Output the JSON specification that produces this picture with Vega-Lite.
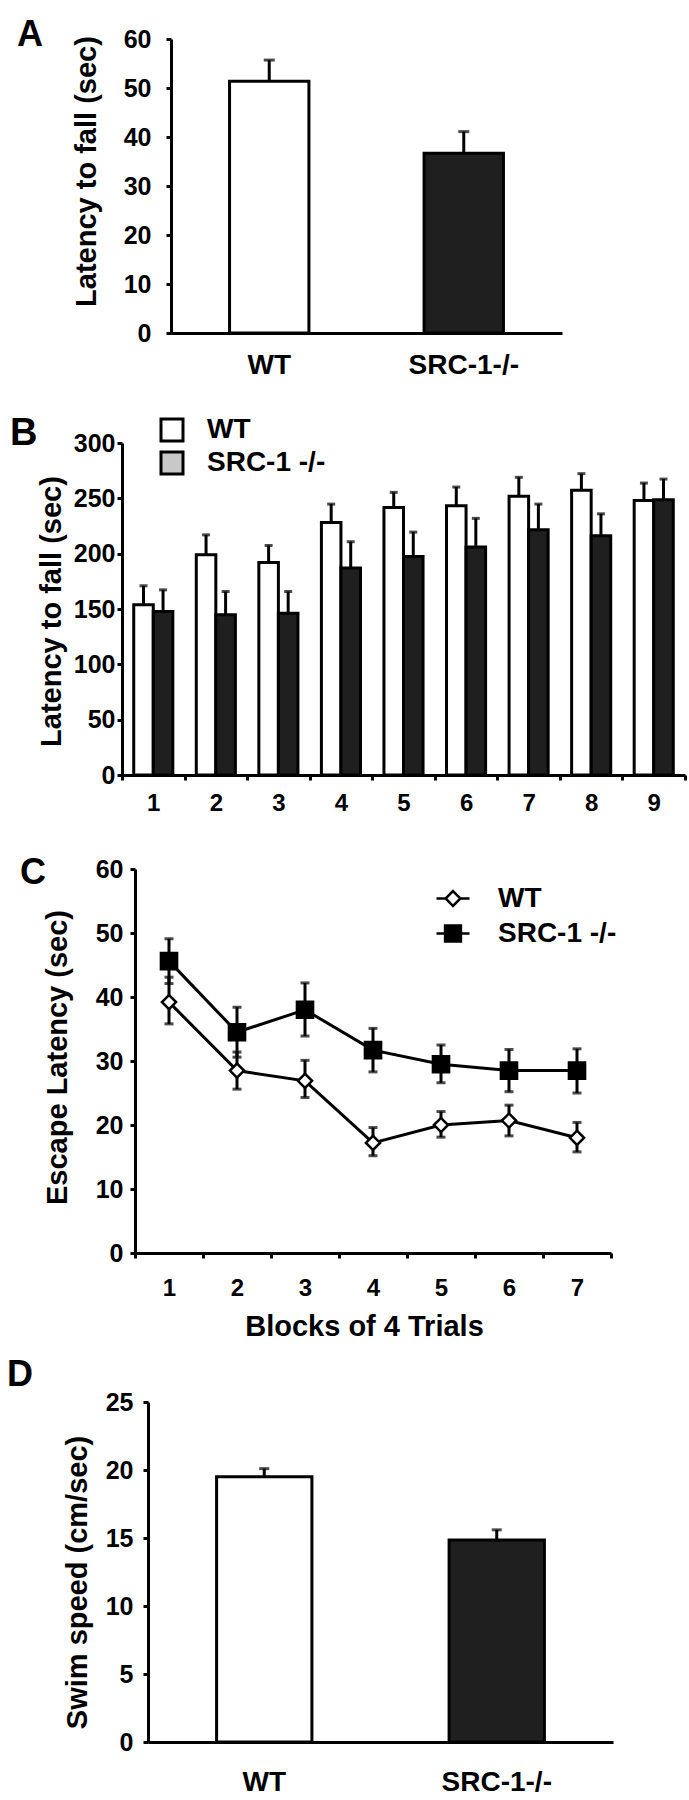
{
  "$schema": "https://vega.github.io/schema/vega-lite/v6.json",
  "autosize": {"type": "pad"},
  "padding": {"left": 7, "top": 0, "right": 0, "bottom": 0},
  "background": "white",
  "config": {
    "font": "Liberation Sans",
    "view": {"stroke": null},
    "axis": {
      "domainColor": "black", "domainWidth": 3,
      "tickColor": "black", "tickWidth": 3, "tickSize": 5,
      "labelColor": "black", "labelFont": "Liberation Sans", "labelFontWeight": "bold", "labelFontSize": 25,
      "titleFont": "Liberation Sans", "titleFontWeight": "bold", "titleFontSize": 29, "titleColor": "black",
      "grid": false, "labelAngle": 0
    },
    "legend": {"padding": 0, "labelFont": "Liberation Sans", "labelFontWeight": "bold", "labelFontSize": 28, "labelColor": "black", "labelLimit": 400},
    "title": {"font": "Liberation Sans", "fontWeight": "bold", "color": "black", "anchor": "start", "frame": "group", "orient": "top", "offset": 0, "baseline": "alphabetic"}
  },
  "datasets": {
    "panelA": [
      {"genotype": "WT", "mean": 51.4, "upper": 55.7},
      {"genotype": "SRC-1-/-", "mean": 36.7, "upper": 41.1}
    ],
    "panelB": [
      {"trial": 1, "genotype": "WT", "mean": 153.8, "upper": 171},
      {"trial": 1, "genotype": "SRC-1 -/-", "mean": 147.7, "upper": 167.3},
      {"trial": 2, "genotype": "WT", "mean": 199, "upper": 217},
      {"trial": 2, "genotype": "SRC-1 -/-", "mean": 144.7, "upper": 165.8},
      {"trial": 3, "genotype": "WT", "mean": 192, "upper": 207.4},
      {"trial": 3, "genotype": "SRC-1 -/-", "mean": 146.2, "upper": 165.8},
      {"trial": 4, "genotype": "WT", "mean": 228.2, "upper": 244.8},
      {"trial": 4, "genotype": "SRC-1 -/-", "mean": 187, "upper": 210.8},
      {"trial": 5, "genotype": "WT", "mean": 241.8, "upper": 255.4},
      {"trial": 5, "genotype": "SRC-1 -/-", "mean": 197.5, "upper": 219.5},
      {"trial": 6, "genotype": "WT", "mean": 243.3, "upper": 260.2},
      {"trial": 6, "genotype": "SRC-1 -/-", "mean": 206, "upper": 231.9},
      {"trial": 7, "genotype": "WT", "mean": 251.8, "upper": 269},
      {"trial": 7, "genotype": "SRC-1 -/-", "mean": 221.6, "upper": 244.8},
      {"trial": 8, "genotype": "WT", "mean": 257.2, "upper": 272.3},
      {"trial": 8, "genotype": "SRC-1 -/-", "mean": 216.2, "upper": 236},
      {"trial": 9, "genotype": "WT", "mean": 248.1, "upper": 263.8},
      {"trial": 9, "genotype": "SRC-1 -/-", "mean": 248.7, "upper": 267.4}
    ],
    "panelC": [
      {"block": 1, "genotype": "WT", "mean": 39.2, "lower": 35.8, "upper": 43.1},
      {"block": 2, "genotype": "WT", "mean": 28.5, "lower": 25.6, "upper": 31.4},
      {"block": 3, "genotype": "WT", "mean": 26.9, "lower": 24.3, "upper": 30.1},
      {"block": 4, "genotype": "WT", "mean": 17.2, "lower": 15.2, "upper": 19.6},
      {"block": 5, "genotype": "WT", "mean": 20.0, "lower": 18.1, "upper": 22.1},
      {"block": 6, "genotype": "WT", "mean": 20.7, "lower": 18.3, "upper": 23.1},
      {"block": 7, "genotype": "WT", "mean": 18.0, "lower": 15.8, "upper": 20.4},
      {"block": 1, "genotype": "SRC-1 -/-", "mean": 45.6, "lower": 42.1, "upper": 49.1},
      {"block": 2, "genotype": "SRC-1 -/-", "mean": 34.5, "lower": 30.6, "upper": 38.4},
      {"block": 3, "genotype": "SRC-1 -/-", "mean": 38.0, "lower": 33.9, "upper": 42.2},
      {"block": 4, "genotype": "SRC-1 -/-", "mean": 31.7, "lower": 28.3, "upper": 35.1},
      {"block": 5, "genotype": "SRC-1 -/-", "mean": 29.5, "lower": 26.6, "upper": 32.5},
      {"block": 6, "genotype": "SRC-1 -/-", "mean": 28.5, "lower": 25.2, "upper": 31.8},
      {"block": 7, "genotype": "SRC-1 -/-", "mean": 28.5, "lower": 25.0, "upper": 31.9}
    ],
    "panelD": [
      {"genotype": "WT", "mean": 19.5, "upper": 20.1},
      {"genotype": "SRC-1-/-", "mean": 14.85, "upper": 15.6}
    ]
  },
  "spacing": 0,
  "bounds": "flush",
  "resolve": {
    "scale": {"x": "independent", "y": "independent", "xOffset": "independent", "fill": "independent", "shape": "independent"},
    "legend": {"fill": "independent", "shape": "independent"}
  },
  "vconcat": [
    {
      "width": 440, "height": 443,
      "title": {"text": "A", "dx": -105, "dy": 58, "fontSize": 36},
      "data": {"name": "panelA"},
      "encoding": {
        "x": {"field": "genotype", "type": "nominal", "sort": ["WT", "SRC-1-/-"],
          "scale": {"type": "band", "range": [49, 440], "paddingInner": 0.592, "paddingOuter": 0.301},
          "axis": {"title": null, "ticks": false, "tickSize": 0, "labelPadding": 18, "labelFontSize": 28, "offset": -110}}
      },
      "layer": [
        {"mark": {"type": "bar", "stroke": "black", "strokeWidth": 3},
         "encoding": {
           "y": {"field": "mean", "type": "quantitative", "scale": {"domain": [0, 60], "range": [333, 39], "nice": false},
             "axis": {"values": [0, 10, 20, 30, 40, 50, 60], "offset": -49, "labelPadding": 15, "title": "Latency to fall (sec)", "titleX": -85, "titleY": 171, "titleAngle": 270, "titleBaseline": "middle", "titleAlign": "center"}},
           "fill": {"field": "genotype", "type": "nominal", "scale": {"domain": ["WT", "SRC-1-/-"], "range": ["white", "#1f1f1f"]}, "legend": null}
         }},
        {"mark": {"type": "rule", "strokeWidth": 3, "color": "black"},
         "encoding": {"y": {"field": "mean", "type": "quantitative"}, "y2": {"field": "upper"}}},
        {"mark": {"type": "tick", "thickness": 3, "size": 11, "color": "black", "orient": "horizontal"},
         "encoding": {"y": {"field": "upper", "type": "quantitative"}}}
      ]
    },
    {
      "width": 563, "height": 426,
      "title": {"text": "B", "dx": -112, "dy": 41, "fontSize": 38},
      "data": {"name": "panelB"},
      "encoding": {
        "x": {"field": "trial", "type": "ordinal",
          "scale": {"type": "band", "paddingInner": 0, "paddingOuter": 0},
          "axis": {"title": null, "tickBand": "extent", "labelPadding": 11, "labelFontSize": 24, "offset": -94}},
        "xOffset": {"field": "genotype", "type": "nominal", "sort": ["WT", "SRC-1 -/-"], "scale": {"domain": ["WT", "SRC-1 -/-"], "paddingInner": 0, "paddingOuter": 0.6}},
        "y": {"field": "mean", "type": "quantitative", "scale": {"domain": [0, 300], "range": [332, 0], "nice": false},
          "axis": {"values": [0, 50, 100, 150, 200, 250, 300], "labelPadding": 2, "title": "Latency to fall (sec)", "titleX": -71, "titleY": 168, "titleAngle": 270, "titleBaseline": "middle", "titleAlign": "center"}}
      },
      "layer": [
        {"transform": [{"filter": "datum.genotype === 'WT'"}],
         "mark": {"type": "bar", "stroke": "black", "strokeWidth": 3, "fill": "white"}},
        {"transform": [{"filter": "datum.genotype !== 'WT'"}],
         "mark": {"type": "bar", "stroke": "black", "strokeWidth": 3, "fill": "#1f1f1f"}},
        {"mark": {"type": "rule", "strokeWidth": 3, "color": "black"},
         "encoding": {"y2": {"field": "upper"}}},
        {"mark": {"type": "tick", "thickness": 3, "size": 8, "color": "black", "orient": "horizontal"},
         "encoding": {"y": {"field": "upper", "type": "quantitative"}}},
        {"mark": {"type": "bar", "opacity": 0, "stroke": "black", "strokeWidth": 3},
         "encoding": {
           "fill": {"field": "genotype", "type": "nominal", "sort": ["WT", "SRC-1 -/-"],
             "scale": {"domain": ["WT", "SRC-1 -/-"], "range": ["white", "#c8c8c8"]},
             "legend": {"orient": "none", "legendX": 36, "legendY": -27, "title": null, "symbolType": "square", "symbolSize": 484,
               "symbolOpacity": 1, "symbolStrokeColor": "black", "symbolStrokeWidth": 3, "labelFontSize": 28, "labelOffset": 21, "rowPadding": -1,
               "labelExpr": "datum.label == 'WT' ? '\u00a0WT' : datum.label"}}
         }}
      ]
    },
    {
      "width": 489, "height": 533,
      "title": {"text": "C", "dx": -102, "dy": 39, "fontSize": 36},
      "data": {"name": "panelC"},
      "encoding": {
        "x": {"field": "block", "type": "ordinal", "bandPosition": 0.5,
          "scale": {"type": "band", "range": [13, 489], "paddingInner": 0, "paddingOuter": 0},
          "axis": {"title": "Blocks of 4 Trials", "tickBand": "extent", "labelPadding": 18, "labelFontSize": 24, "offset": -149,
            "titleX": 242, "titleY": 82, "titleBaseline": "alphabetic", "titleAlign": "center"}}
      },
      "layer": [
        {"mark": {"type": "line", "color": "black", "strokeWidth": 3},
         "encoding": {
           "y": {"field": "mean", "type": "quantitative", "scale": {"domain": [0, 60], "range": [384, 0], "nice": false},
             "axis": {"values": [0, 10, 20, 30, 40, 50, 60], "offset": -13, "labelPadding": 7, "title": "Escape Latency (sec)", "titleX": -77.5, "titleY": 188, "titleAngle": 270, "titleBaseline": "middle", "titleAlign": "center"}},
           "detail": {"field": "genotype", "type": "nominal"}
         }},
        {"mark": {"type": "rule", "strokeWidth": 3, "color": "black"},
         "encoding": {"y": {"field": "lower", "type": "quantitative"}, "y2": {"field": "upper"}}},
        {"mark": {"type": "tick", "thickness": 3, "size": 9, "color": "black", "orient": "horizontal"},
         "encoding": {"y": {"field": "lower", "type": "quantitative"}}},
        {"mark": {"type": "tick", "thickness": 3, "size": 9, "color": "black", "orient": "horizontal"},
         "encoding": {"y": {"field": "upper", "type": "quantitative"}}},
        {"transform": [{"filter": "datum.genotype === 'WT'"}],
         "mark": {"type": "point", "shape": "diamond", "filled": true, "fill": "white", "stroke": "black", "strokeWidth": 2.5, "size": 200, "opacity": 1},
         "encoding": {"y": {"field": "mean", "type": "quantitative"}}},
        {"transform": [{"filter": "datum.genotype !== 'WT'"}],
         "mark": {"type": "point", "shape": "square", "filled": true, "fill": "black", "stroke": "black", "strokeWidth": 2.5, "size": 260, "opacity": 1},
         "encoding": {"y": {"field": "mean", "type": "quantitative"}}},
        {"mark": {"type": "point", "filled": true, "opacity": 0, "stroke": "black", "strokeWidth": 2.5},
         "encoding": {
           "y": {"field": "mean", "type": "quantitative"},
           "shape": {"field": "genotype", "type": "nominal", "sort": ["WT", "SRC-1 -/-"],
             "scale": {"domain": ["WT", "SRC-1 -/-"], "range": ["M-1,0L-0.45,0M0.45,0L1,0M0,-0.45L0.45,0L0,0.45L-0.45,0Z", "M-1,0L1,0M-0.48,-0.48L0.48,-0.48L0.48,0.48L-0.48,0.48Z"]},
             "legend": {"orient": "none", "legendX": 313, "legendY": 11.5, "title": null, "symbolSize": 1089, "symbolOpacity": 1,
               "symbolStrokeColor": "black", "symbolStrokeWidth": 2.5, "labelFontSize": 28, "labelOffset": 27, "rowPadding": 3,
               "encode": {"symbols": {"update": {"stroke": {"value": "black"}, "strokeWidth": {"value": 2.5}}}}}},
           "fill": {"field": "genotype", "type": "nominal", "sort": ["WT", "SRC-1 -/-"],
             "scale": {"domain": ["WT", "SRC-1 -/-"], "range": ["white", "black"]},
             "legend": {"orient": "none", "legendX": 313, "legendY": 11.5, "title": null, "symbolSize": 1089, "symbolOpacity": 1,
               "symbolStrokeColor": "black", "symbolStrokeWidth": 2.5, "labelFontSize": 28, "labelOffset": 27, "rowPadding": 3,
               "encode": {"symbols": {"update": {"stroke": {"value": "black"}, "strokeWidth": {"value": 2.5}}}}}}
         }}
      ]
    },
    {
      "width": 491, "height": 340,
      "title": {"text": "D", "dx": -115, "dy": 8, "fontSize": 36},
      "data": {"name": "panelD"},
      "encoding": {
        "x": {"field": "genotype", "type": "nominal", "sort": ["WT", "SRC-1-/-"],
          "scale": {"type": "band", "range": [26, 491], "paddingInner": 0.59, "paddingOuter": 0.295},
          "axis": {"title": null, "ticks": false, "tickSize": 0, "labelPadding": 26, "labelFontSize": 28}}
      },
      "layer": [
        {"mark": {"type": "bar", "stroke": "black", "strokeWidth": 3},
         "encoding": {
           "y": {"field": "mean", "type": "quantitative", "scale": {"domain": [0, 25], "range": [340, 0], "nice": false},
             "axis": {"values": [0, 5, 10, 15, 20, 25], "offset": -26, "labelPadding": 10, "title": "Swim speed (cm/sec)", "titleX": -70.5, "titleY": 180, "titleAngle": 270, "titleBaseline": "middle", "titleAlign": "center"}},
           "fill": {"field": "genotype", "type": "nominal", "scale": {"domain": ["WT", "SRC-1-/-"], "range": ["white", "#1f1f1f"]}, "legend": null}
         }},
        {"mark": {"type": "rule", "strokeWidth": 3, "color": "black"},
         "encoding": {"y": {"field": "mean", "type": "quantitative"}, "y2": {"field": "upper"}}},
        {"mark": {"type": "tick", "thickness": 3, "size": 10, "color": "black", "orient": "horizontal"},
         "encoding": {"y": {"field": "upper", "type": "quantitative"}}}
      ]
    }
  ]
}
